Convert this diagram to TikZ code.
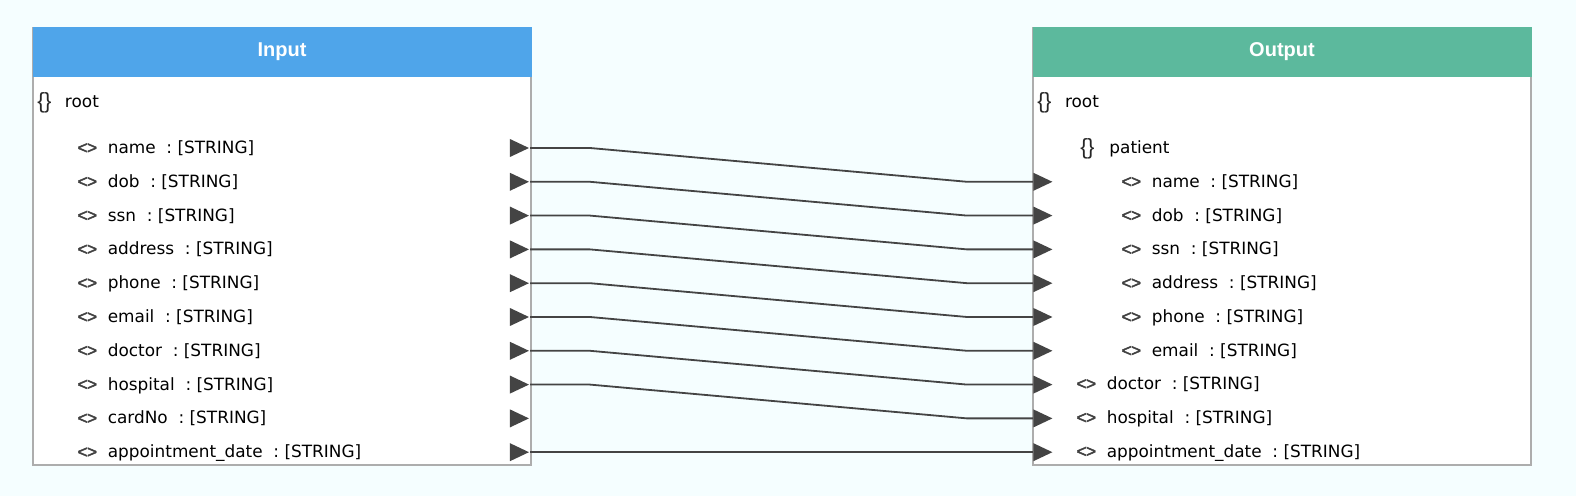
\documentclass[tikz,border=0pt]{standalone}
\usepackage{fontspec}
\setmainfont{DejaVu Sans}
\newfontfamily\headfont{Liberation Sans}
\newfontfamily\iconfont[FakeBold=2.5]{Liberation Sans}
\usetikzlibrary{calc,shapes.geometric}
\definecolor{bgcol}{HTML}{F5FEFF}
\definecolor{inblue}{HTML}{4FA5EA}
\definecolor{outgreen}{HTML}{5CB99D}
\definecolor{boxgray}{HTML}{ADADAD}
\definecolor{wirecol}{HTML}{444444}
\newcommand\objicon{\raisebox{-.3pt}{\headfont\fontsize{11}{12}\selectfont\color{black!85}\{\kern-.3pt\}}}
\newcommand\valicon{{\iconfont\fontsize{8.6}{9}\selectfont\color{black!75}<\kern-.2pt>}}
\newcommand\objrow[1]{\makebox[13.8pt][l]{\objicon}#1}
\newcommand\valrow[1]{\makebox[15.2pt][l]{\valicon}#1\ \ :\ [STRING]}
\begin{document}
\begin{tikzpicture}[x=.5pt,y=-.5pt,
 fld/.style={anchor=mid west,inner sep=0pt,font=\fontsize{8.45}{10}\selectfont},
 head/.style={text=white,font=\headfont\fontsize{10}{12}\selectfont\bfseries},
 port/.style={isosceles triangle,isosceles triangle stretches,fill=wirecol,
  inner sep=0pt,minimum width=9pt,minimum height=9.5pt},
 wire/.style={wirecol,line width=.9pt}]
 \fill[bgcol] (0,0) rectangle (1576,496);
 % boxes
 \draw[boxgray,line width=1pt,fill=white] (33,28) rectangle (531,465);
 \fill[inblue] (32.5,27.5) rectangle (531.5,77.5);
 \draw[boxgray,line width=1pt,fill=white] (1033,28) rectangle (1531,465);
 \fill[outgreen] (1032.5,27.5) rectangle (1531.5,77.5);
 \node[head] (inhead) at (282,52) {Input};
 \node[head] (outhead) at (1282,52) {Output};
 \path
 (37,102.5) node[fld] (in-root) {\objrow{root}} % <<< Input
 (77,148) node[fld] (in-name) {\valrow{name}}
 ++(0,33.8) node[fld] (in-dob) {\valrow{dob}}
 ++(0,33.8) node[fld] (in-ssn) {\valrow{ssn}}
 ++(0,33.8) node[fld] (in-address) {\valrow{address}}
 ++(0,33.8) node[fld] (in-phone) {\valrow{phone}}
 ++(0,33.8) node[fld] (in-email) {\valrow{email}}
 ++(0,33.8) node[fld] (in-doctor) {\valrow{doctor}}
 ++(0,33.8) node[fld] (in-hospital) {\valrow{hospital}}
 ++(0,33.8) node[fld] (in-cardno) {\valrow{cardNo}}
 ++(0,33.8) node[fld] (in-appt) {\valrow{appointment\_date}};
 \path
 (1037,102.5) node[fld] (out-root) {\objrow{root}} % <<< Output
 (1080,148) node[fld] (out-patient) {\makebox[14.5pt][l]{\objicon}patient}
 (1121,181.8) node[fld] (out-name) {\valrow{name}}
 ++(0,33.8) node[fld] (out-dob) {\valrow{dob}}
 ++(0,33.8) node[fld] (out-ssn) {\valrow{ssn}}
 ++(0,33.8) node[fld] (out-address) {\valrow{address}}
 ++(0,33.8) node[fld] (out-phone) {\valrow{phone}}
 ++(0,33.8) node[fld] (out-email) {\valrow{email}}
 (1076,384) node[fld] (out-doctor) {\valrow{doctor}}
 ++(0,33.8) node[fld] (out-hospital) {\valrow{hospital}}
 ++(0,33.8) node[fld] (out-appt) {\valrow{appointment\_date}};
 % ports
 \path
 (530,148) node[port,anchor=apex] (ip-name) {}
 ++(0,33.8) node[port,anchor=apex] (ip-dob) {}
 ++(0,33.8) node[port,anchor=apex] (ip-ssn) {}
 ++(0,33.8) node[port,anchor=apex] (ip-address) {}
 ++(0,33.8) node[port,anchor=apex] (ip-phone) {}
 ++(0,33.8) node[port,anchor=apex] (ip-email) {}
 ++(0,33.8) node[port,anchor=apex] (ip-doctor) {}
 ++(0,33.8) node[port,anchor=apex] (ip-hospital) {}
 ++(0,33.8) node[port,anchor=apex] (ip-cardno) {}
 ++(0,33.8) node[port,anchor=apex] (ip-appt) {};
 \path
 (1033,181.8) node[port,anchor=west] (op-name) {}
 ++(0,33.8) node[port,anchor=west] (op-dob) {}
 ++(0,33.8) node[port,anchor=west] (op-ssn) {}
 ++(0,33.8) node[port,anchor=west] (op-address) {}
 ++(0,33.8) node[port,anchor=west] (op-phone) {}
 ++(0,33.8) node[port,anchor=west] (op-email) {}
 ++(0,33.8) node[port,anchor=west] (op-doctor) {}
 ++(0,33.8) node[port,anchor=west] (op-hospital) {}
 ++(0,33.8) node[port,anchor=west] (op-appt) {};
 \begin{scope}[wire]
 \draw (ip-name.apex) -- ++(60,0) -- ($(op-name.west)+(-66,0)$) -- (op-name.west);
 \draw (ip-dob.apex) -- ++(60,0) -- ($(op-dob.west)+(-66,0)$) -- (op-dob.west);
 \draw (ip-ssn.apex) -- ++(60,0) -- ($(op-ssn.west)+(-66,0)$) -- (op-ssn.west);
 \draw (ip-address.apex) -- ++(60,0) -- ($(op-address.west)+(-66,0)$) -- (op-address.west);
 \draw (ip-phone.apex) -- ++(60,0) -- ($(op-phone.west)+(-66,0)$) -- (op-phone.west);
 \draw (ip-email.apex) -- ++(60,0) -- ($(op-email.west)+(-66,0)$) -- (op-email.west);
 \draw (ip-doctor.apex) -- ++(60,0) -- ($(op-doctor.west)+(-66,0)$) -- (op-doctor.west);
 \draw (ip-hospital.apex) -- ++(60,0) -- ($(op-hospital.west)+(-66,0)$) -- (op-hospital.west);
 \draw (ip-appt.apex) -- (op-appt.west);
 \end{scope}
\end{tikzpicture}
\end{document}
